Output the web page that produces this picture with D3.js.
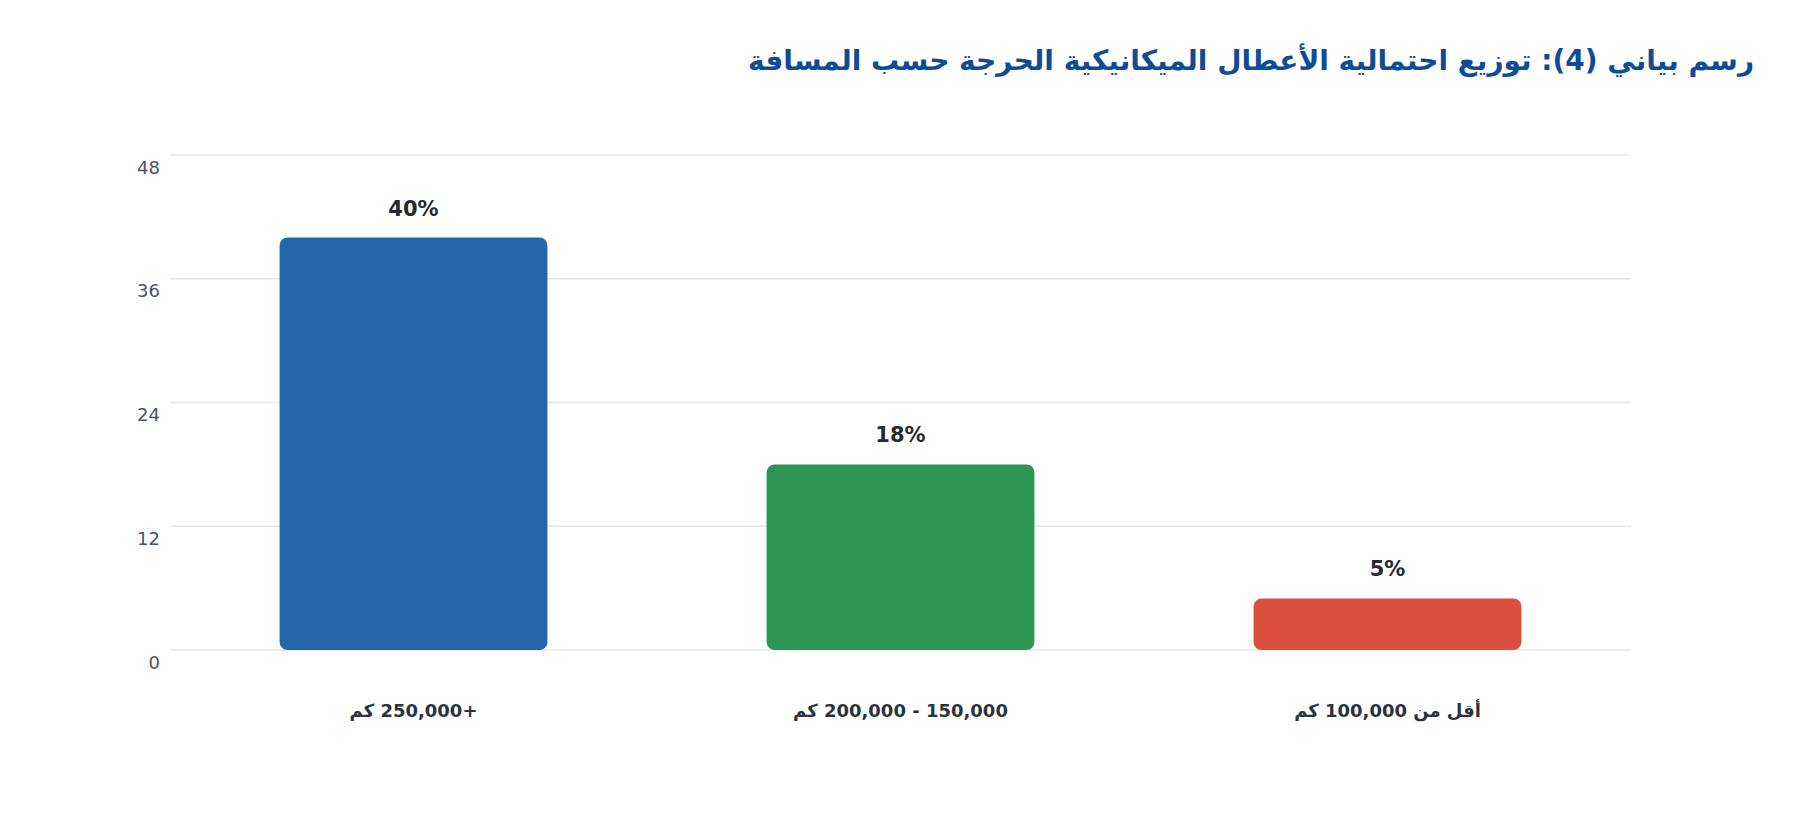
<!DOCTYPE html>
<html lang="ar">
<head>
<meta charset="utf-8">
<script src="https://cdn.jsdelivr.net/npm/d3@7"></script>
<style>
    html, body { margin: 0; padding: 0; background: #ffffff; }
    svg { display: block; font-family: "DejaVu Sans", sans-serif; }
</style>
</head>
<body>
<div id="chart"></div>
<script>
    'use strict';

    var chartTitle = 'رسم بياني (4): توزيع احتمالية الأعطال الميكانيكية الحرجة حسب المسافة';
    var categories = ['+250,000 كم', '150,000 - 200,000 كم', 'أقل من 100,000 كم'];
    var values = [40, 18, 5];
    var barColors = ['#2366ab', '#2e9452', '#dc4f3e'];
    var yTicks = [0, 12, 24, 36, 48];

    var stage = {
        width: 1800,
        height: 820,
        left: 170,
        right: 1631,
        top: 155,
        bottom: 650
    };

    var data = categories.map(function(c, i) {
        return { label: c, value: values[i], color: barColors[i] };
    });

    var svg = d3.select('#chart')
        .append('svg')
        .attr('width', stage.width)
        .attr('height', stage.height)
        .attr('xmlns', 'http://www.w3.org/2000/svg');

    var x = d3.scaleBand()
        .domain(categories)
        .range([stage.left, stage.right])
        .paddingInner(0.45)
        .paddingOuter(0.225);

    var y = d3.scaleLinear()
        .domain([0, d3.max(yTicks)])
        .range([stage.bottom, stage.top]);

    // title, right aligned
    svg.append('text')
        .attr('x', 1754)
        .attr('y', 70)
        .attr('direction', 'rtl')
        .attr('text-anchor', 'start')
        .attr('font-size', 28)
        .attr('font-weight', 'bold')
        .attr('fill', '#0f4c96')
        .text(chartTitle);

    // grid + y labels
    var grid = svg.append('g').attr('class', 'grid');
    grid.selectAll('line')
        .data(yTicks).enter()
        .append('line')
        .attr('x1', stage.left)
        .attr('x2', stage.right)
        .attr('y1', function(d) { return y(d); })
        .attr('y2', function(d) { return y(d); })
        .attr('stroke', '#e2e6eb')
        .attr('stroke-width', 1.5);

    var yAxis = svg.append('g')
        .attr('transform', 'translate(160,0)')
        .call(d3.axisLeft(y).tickValues(yTicks).tickSize(0).tickPadding(0));
    yAxis.select('.domain').remove();
    yAxis.selectAll('text')
        .attr('font-family', '"DejaVu Sans", sans-serif')
        .attr('font-size', 18)
        .attr('fill', '#4b5563')
        .attr('dy', '1.0em');

    // bars
    svg.append('g')
        .attr('class', 'bars')
        .selectAll('rect')
        .data(data).enter()
        .append('rect')
        .attr('x', function(d) { return x(d.label); })
        .attr('y', function(d) { return y(d.value); })
        .attr('width', x.bandwidth())
        .attr('height', function(d) { return y(0) - y(d.value); })
        .attr('rx', 8)
        .attr('ry', 8)
        .attr('fill', function(d) { return d.color; });

    // value labels
    svg.append('g')
        .attr('class', 'values')
        .selectAll('text')
        .data(data).enter()
        .append('text')
        .attr('x', function(d) { return x(d.label) + x.bandwidth() / 2; })
        .attr('y', function(d) { return y(d.value) - 22; })
        .attr('text-anchor', 'middle')
        .attr('font-size', 21)
        .attr('font-weight', 'bold')
        .attr('fill', '#262b31')
        .text(function(d) { return d.value + '%'; });

    // category labels
    svg.append('g')
        .attr('class', 'categories')
        .selectAll('text')
        .data(data).enter()
        .append('text')
        .attr('x', function(d) { return x(d.label) + x.bandwidth() / 2; })
        .attr('y', 717)
        .attr('direction', 'rtl')
        .attr('text-anchor', 'middle')
        .attr('font-size', 18)
        .attr('font-weight', 'bold')
        .attr('fill', '#2b3340')
        .text(function(d) { return d.label; });
</script>
</body>
</html>
